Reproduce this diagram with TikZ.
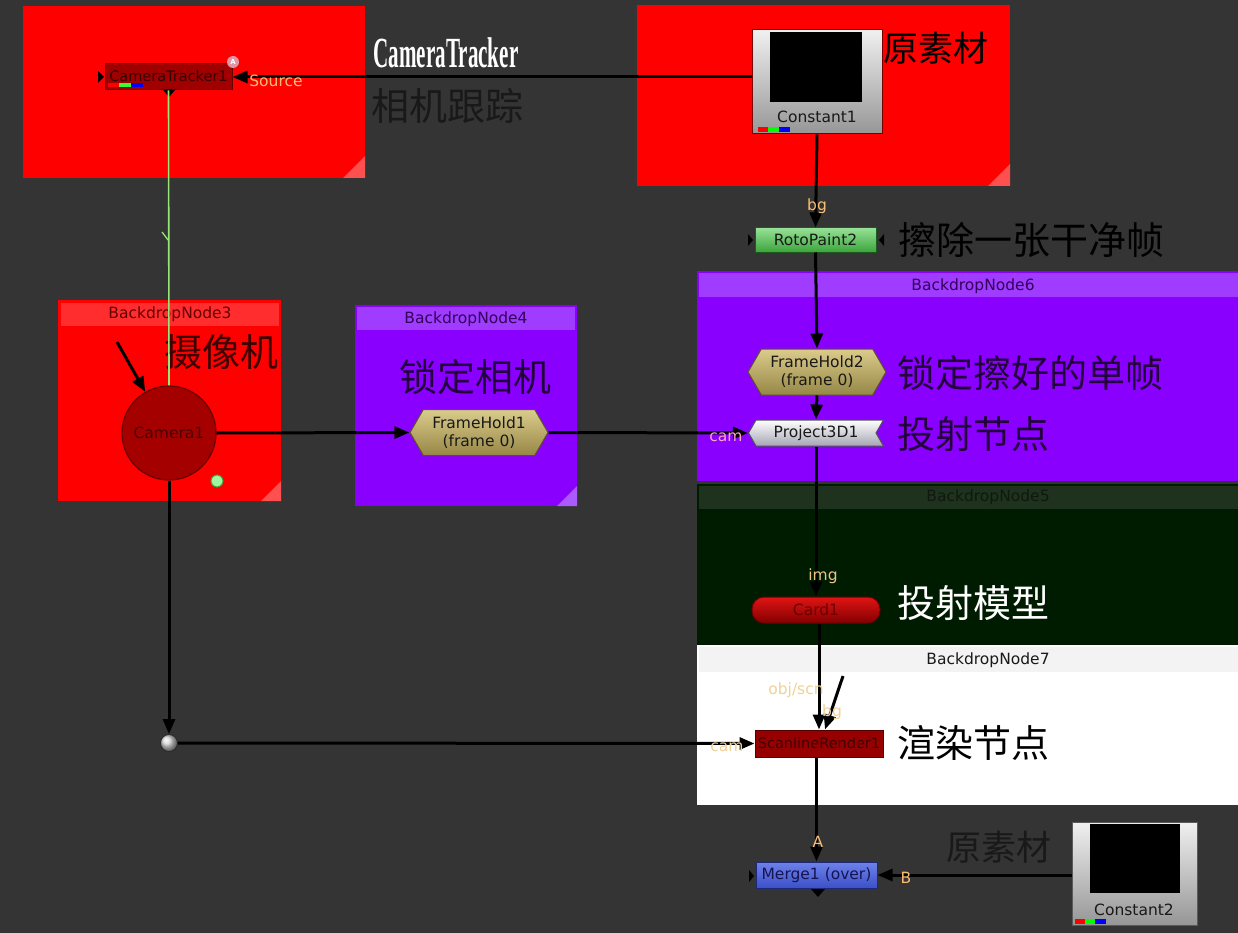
\documentclass[tikz,border=0pt]{standalone}
\usepackage{fontspec}
\setmainfont{DejaVu Sans}
\newfontfamily\cjk{Noto Sans CJK SC}
\newfontfamily\condserif{Liberation Serif}
\usetikzlibrary{shapes.symbols,shapes.geometric,arrows.meta,calc}
\definecolor{bgc}{RGB}{52,52,52}
\definecolor{bdred}{RGB}{255,0,0}
\definecolor{bdredh}{RGB}{255,45,45}
\definecolor{bdredc}{RGB}{255,80,80}
\definecolor{bdpur}{RGB}{138,0,255}
\definecolor{bdpurh}{RGB}{160,60,255}
\definecolor{bdpurc}{RGB}{170,90,255}
\definecolor{bdgrn}{RGB}{0,28,0}
\definecolor{bdgrnh}{RGB}{30,50,30}
\definecolor{bdwhh}{RGB}{243,243,243}
\definecolor{lblor}{RGB}{250,190,115}
\definecolor{lblpale}{RGB}{240,210,150}
\definecolor{lblpink}{RGB}{255,160,200}
\definecolor{lblimg}{RGB}{235,195,135}
\definecolor{nred}{RGB}{160,0,0}
\definecolor{nredd}{RGB}{100,0,0}
\definecolor{ntxtred}{RGB}{55,0,0}
\definecolor{glight}{RGB}{150,230,120}
\definecolor{khakit}{RGB}{218,204,140}
\definecolor{khakib}{RGB}{150,135,70}
\definecolor{khakid}{RGB}{90,80,40}
\definecolor{greent}{RGB}{150,225,150}
\definecolor{greenb}{RGB}{60,165,60}
\definecolor{greend}{RGB}{30,90,30}
\definecolor{bluet}{RGB}{110,130,235}
\definecolor{blueb}{RGB}{60,80,200}
\definecolor{blued}{RGB}{30,40,120}
\definecolor{bluetx}{RGB}{20,20,80}
\definecolor{dtxt}{RGB}{25,25,25}
\definecolor{purtxt}{RGB}{50,0,90}
\definecolor{purann}{RGB}{35,0,60}
\definecolor{redann}{RGB}{60,0,0}
\definecolor{grntx}{RGB}{15,25,15}
\definecolor{pinkA}{RGB}{225,150,165}
\definecolor{cgl}{RGB}{240,240,240}
\definecolor{cgd}{RGB}{150,150,150}
\definecolor{cgb}{RGB}{120,0,0}
\definecolor{cgb2}{RGB}{90,90,90}
\definecolor{p3b}{RGB}{165,165,180}
\definecolor{p3d}{RGB}{80,80,90}
\definecolor{cardt}{RGB}{225,20,20}
\definecolor{cardb}{RGB}{130,0,0}
\definecolor{cardd}{RGB}{110,0,0}
\definecolor{slf}{RGB}{150,0,0}
\definecolor{sld}{RGB}{85,0,0}
\definecolor{sltx}{RGB}{65,0,0}
\definecolor{camf}{RGB}{165,0,0}
\definecolor{camd}{RGB}{105,0,0}
\definecolor{camtx}{RGB}{70,0,0}
\definecolor{gdotf}{RGB}{160,245,160}
\definecolor{gdotd}{RGB}{60,160,60}
\definecolor{dotf}{RGB}{215,215,215}
\definecolor{dotd}{RGB}{40,40,40}
\newcommand{\nf}{\fontsize{15.5}{18}\selectfont}
\newcommand{\lf}{\fontsize{15.5}{17}\selectfont}
\newcommand{\cnf}{\cjk\fontsize{38}{40}\selectfont}
\begin{document}
\begin{tikzpicture}[x=1pt,y=-1pt,
  conn/.style={line width=3pt,black,-{Triangle[length=15pt,width=12pt]}},
  nbase/.style={inner sep=0pt,font=\nf,text=dtxt},
  rectnode/.style={nbase,rectangle,minimum width=#1,minimum height=26pt},
  hexnode/.style={nbase,signal,signal to=east and west,signal pointer angle=120,
     minimum width=138pt,minimum height=46pt,top color=khakit,bottom color=khakib,draw=khakid,line width=1pt,align=center},
  ann/.style={inner sep=0pt,font=\cnf,text=black},
  pinlbl/.style={inner sep=0pt,font=\lf,text=lblor},
  hdr/.style={inner sep=0pt,font=\nf},
  tri/.style={fill=black}
]
\fill[bgc] (0,0) rectangle (1238,933);
\useasboundingbox (0,0) rectangle (1238,933);

% ---------- backdrops ----------
\fill[bdred] (23,6) rectangle (365,178);
\fill[bdredc] (365,178) -- (343,178) -- (365,156) -- cycle;
\fill[bdred] (637,5) rectangle (1010,186);
\fill[bdredc] (1010,186) -- (988,186) -- (1010,164) -- cycle;
\fill[bdred] (58,300) rectangle (281,501);
\fill[bdredh] (61,303) rectangle (279,326);
\fill[bdredc] (281,501) -- (261,501) -- (281,481) -- cycle;
\node[hdr,text=nredd] (bd3) at (170,314) {BackdropNode3};
\fill[bdpur] (355,305) rectangle (577,506);
\fill[bdpurh] (357,307) rectangle (575,330);
\fill[bdpurc] (577,506) -- (557,506) -- (577,486) -- cycle;
\node[hdr,text=purtxt] (bd4) at (466,319) {BackdropNode4};
\fill[bdpur] (697,271) rectangle (1238,481);
\fill[bdpurh] (699,273) rectangle (1238,297);
\node[hdr,text=purtxt] (bd6) at (973,286) {BackdropNode6};
\fill[bdgrn] (697,484) rectangle (1238,645);
\fill[bdgrnh] (699,486) rectangle (1238,509);
\node[hdr,text=grntx] (bd5) at (988,497) {BackdropNode5};
\fill[white] (697,645) rectangle (1238,805);
\fill[bdwhh] (699,647) rectangle (1238,672);
\node[hdr,text=dtxt] (bd7) at (988,660) {BackdropNode7};

% ---------- annotations ----------
\node[inner sep=0pt,text=white,xscale=0.49,font=\condserif\bfseries\fontsize{43}{44}\selectfont] (tctitle) at (446,53) {CameraTracker};
\node[ann,text=dtxt] (tcam) at (447,106) {相机跟踪};
\node[ann,font=\cjk\fontsize{35}{36}\selectfont] (tsrc1) at (936,48) {原素材};
\node[ann] (terase) at (1031,240) {擦除一张干净帧};
\node[ann,text=purann] (tlock2) at (1030,373) {锁定擦好的单帧};
\node[ann,text=purann] (tproj) at (973,434) {投射节点};
\node[ann,text=white] (tmodel) at (973,603) {投射模型};
\node[ann] (trender) at (973,743) {渲染节点};
\node[ann,text=dtxt,font=\cjk\fontsize{35}{36}\selectfont] (tsrc2) at (999,847) {原素材};
\node[ann,text=redann] (tcamera) at (221,352) {摄像机};
\node[ann,text=purann] (tlock1) at (475,377) {锁定相机};

% ---------- nodes ----------
\node[rectnode=127pt,fill=nred,draw=nredd,line width=1pt,text=ntxtred,font=\fontsize{14.5}{16}\selectfont] (ct) at (168.5,77) {\raisebox{2pt}{CameraTracker1}};
\fill[red] (108,83.5) rectangle (119,87.5);
\fill[green!80!white] (119,83.5) rectangle (131,87.5);
\fill[blue] (131,83.5) rectangle (143,87.5);
\fill[tri] (98,71) -- (104,77) -- (98,83) -- cycle;
\fill[tri] (163,90) -- (175,90) -- (169,97) -- cycle;
\fill[pinkA] (233,62) circle (6);
\node[inner sep=0pt,text=white,font=\fontsize{7}{7}\selectfont\bfseries] (ctA) at (233,62) {A};

\node[nbase,rectangle,minimum width=130pt,minimum height=104pt,top color=cgl,bottom color=cgd,draw=cgb,line width=1pt] (c1) at (817,82) {};
\fill[black] (770,32) rectangle (862,102);
\node[nbase] (c1l) at (817,117) {Constant1};
\fill[red] (758,127) rectangle (768,132);
\fill[green] (768,127) rectangle (779,132);
\fill[blue] (779,127) rectangle (790,132);

\node[rectnode=121pt,minimum height=24pt,top color=greent,bottom color=greenb,draw=greend,line width=1pt] (rp) at (815.5,240) {RotoPaint2};
\fill[tri] (748,234) -- (753,240) -- (748,246) -- cycle;
\fill[tri] (884,234) -- (879,240) -- (884,246) -- cycle;

\node[hexnode] (fh2) at (817,372) {FrameHold2\\(frame 0)};
\node[nbase,signal,signal to=west,signal from=east,signal pointer angle=120,minimum width=135pt,minimum height=26pt,top color=white,bottom color=p3b,draw=p3d,line width=1pt] (p3) at (816,433) {Project3D1};

\node[nbase,rectangle,rounded corners=12pt,minimum width=128pt,minimum height=26pt,top color=cardt,bottom color=cardb,draw=cardd,line width=1pt,text=cardd] (card) at (816,610) {Card1};

\node[rectnode=128pt,minimum height=27pt,fill=slf,draw=sld,line width=1pt,text=sltx,font=\fontsize{14.5}{16}\selectfont] (sl) at (819,743.5) {ScanlineRender1};

\node[rectnode=121pt,top color=bluet,bottom color=blueb,draw=blued,line width=1pt,text=bluetx] (mg) at (816.5,875) {Merge1 (over)};
\fill[tri] (749,870) -- (754,876) -- (749,882) -- cycle;
\fill[tri] (811,889) -- (825,889) -- (818,897) -- cycle;

\node[nbase,rectangle,minimum width=125pt,minimum height=103pt,top color=cgl,bottom color=cgd,draw=cgb2,line width=1pt] (c2) at (1134.5,873.5) {};
\fill[black] (1090,824) rectangle (1180,893);
\node[nbase] (c2l) at (1134,910) {Constant2};
\fill[red] (1075,919) rectangle (1085,924);
\fill[green] (1085,919) rectangle (1095,924);
\fill[blue] (1095,919) rectangle (1106,924);

\node[nbase,circle,minimum size=94pt,fill=camf,draw=camd,line width=1.2pt,text=camtx] (cam) at (169,433) {Camera1};
\node[nbase,circle,minimum size=12pt,fill=gdotf,draw=gdotd,line width=1pt] (gdot) at (217,481) {};

\node[hexnode] (fh1) at (479,432.5) {FrameHold1\\(frame 0)};

\node[nbase,circle,minimum size=17pt,ball color=dotf,draw=dotd,line width=0.8pt] (dot) at (169,743) {};

% ---------- connectors ----------
\draw[glight,line width=1.6pt] (ct.south) -- (cam.north);
\draw[glight,line width=1.3pt] (162,232) -- (168,240);

\draw[conn] (c1.west |- ct.east) -- (ct.east);
\draw[conn] (c1.south) -- (rp.north);
\draw[conn] (rp.south) -- (fh2.north);
\draw[conn] (fh2.south) -- (p3.north);
\draw[conn] (p3.south) -- (card.north);
\draw[conn] (card.south -| sl.north) -- (sl.north);
\coordinate (bgin) at (843,676);
\draw[conn] (bgin) -- ($(sl.north)+(6,0)$);
\draw[conn] (sl.south -| mg.north) -- (mg.north);
\draw[conn] (c2.west |- mg.east) -- (mg.east);

\coordinate (camin) at (117,342);
\draw[conn] (camin) -- (cam.120);
\draw[conn] (cam.east) -- (fh1.west);
\draw[conn] (fh1.east) -- (p3.west);
\draw[conn] (cam.south) -- (dot.north);
\draw[conn] (dot.east) -- (sl.west);

% ---------- pin labels ----------
\node[pinlbl] (lsrc) at (276,81) {Source};
\node[pinlbl] (lbg1) at (817,206) {bg};
\node[pinlbl,text=lblpink] (lcam1) at (726,437) {cam};
\node[pinlbl,text=lblimg] (limg) at (823,576) {img};
\node[pinlbl,text=lblpale] (lobj) at (796,690) {obj/scn};
\node[pinlbl,text=lblpale] (lbg2) at (832,712) {bg};
\node[pinlbl,text=lblpale] (lcam2) at (727,747) {cam};
\node[pinlbl] (lA) at (818,842) {A};
\node[pinlbl] (lB) at (906,878) {B};
\end{tikzpicture}
\end{document}
